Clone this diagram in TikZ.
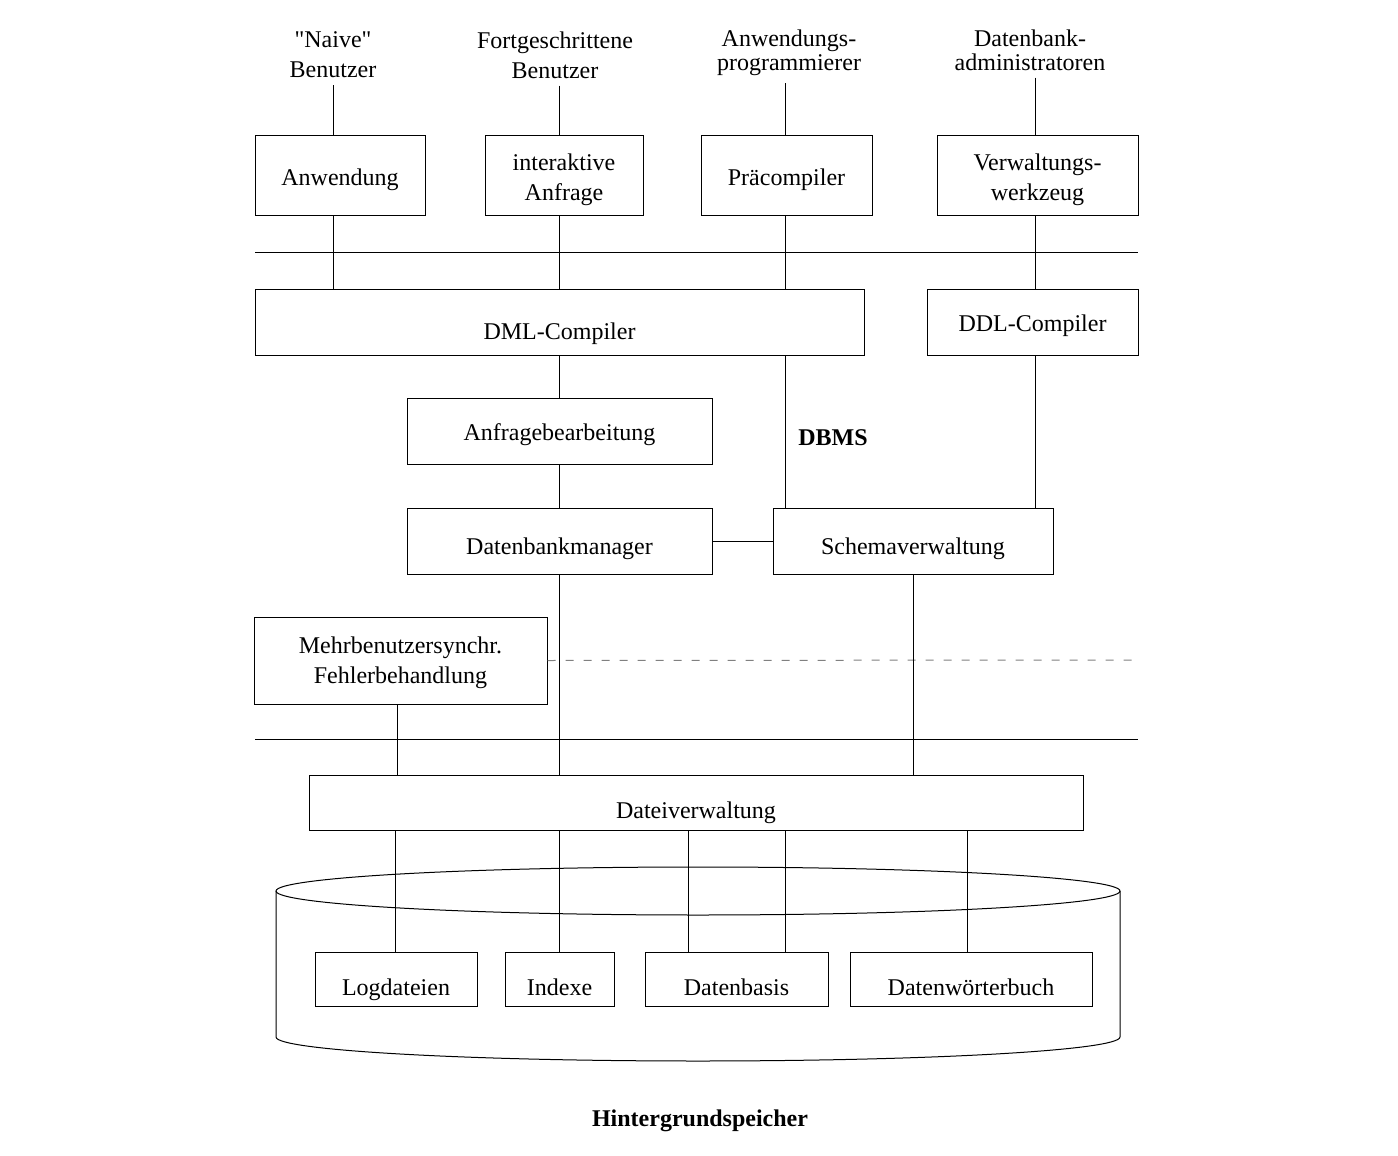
\documentclass[tikz,border=0pt]{standalone}
\usepackage{fontspec}
\setmainfont{Liberation Serif}
\usetikzlibrary{fit}
\begin{document}
\begin{tikzpicture}[x=0.5pt,y=-0.5pt,line width=0.5pt,
  every node/.style={font=\fontsize{12}{15}\selectfont},
  box/.style={draw, inner sep=0pt, line width=0.5pt},
  lbl/.style={align=center, inner sep=0pt, text height=9.5pt, text depth=2pt},
  mlbl/.style={align=center, inner sep=0pt},
  role/.style={align=center},
  tight/.style={align=center, font=\fontsize{12}{12}\selectfont},
  conn/.style={line width=0.5pt},
  dashconn/.style={line width=0.5pt, draw=gray, dash pattern=on 4pt off 5pt},
  bold/.style={font=\fontsize{12}{15}\selectfont\bfseries}]
\useasboundingbox (0,0) rectangle (1398,1156);

% column coordinates
\coordinate (c1) at (333,0);
\coordinate (c2) at (559,0);
\coordinate (c3) at (785,0);
\coordinate (c4) at (1035,0);
\coordinate (c5) at (913,0);
\coordinate (c6) at (397,0);
\coordinate (d1) at (395,0);
\coordinate (d3) at (688,0);
\coordinate (d5) at (967,0);

% user roles
\node[role] (naive) at (333,55) {\textquotedbl Naive\textquotedbl\\Benutzer};
\node[role] (fort) at (555,55) {Fortgeschrittene\\Benutzer};
\node[tight] (prog) at (789,53) {Anwendungs-\\programmierer};
\node[tight] (admin) at (1030,50) {Datenbank-\\administratoren};

% top boxes
\node[box, fit={(255,136)(425,215)}, label={[lbl, yshift=-1.25pt]center:Anwendung}] (anw) {};
\node[box, fit={(485,136)(643,215)}, label={[mlbl, yshift=-2pt]center:{interaktive\\Anfrage}}] (ia) {};
\node[box, fit={(701,136)(872,215)}, label={[lbl, yshift=-1.25pt]center:Präcompiler}] (pre) {};
\node[box, fit={(937,136)(1138,215)}, label={[mlbl, yshift=-2pt]center:{Verwaltungs-\\werkzeug}}] (vw) {};

% horizontal separators
\coordinate (h1l) at (255,252);
\coordinate (h1r) at (1138,252);
\coordinate (h2l) at (255,739);
\coordinate (h2r) at (1138,739);
\draw[conn] (h1l) -- (h1r);
\draw[conn] (h2l) -- (h2r);

% compilers
\node[box, fit={(255,289)(864,355)}, label={[lbl, yshift=-4.75pt]center:DML-Compiler}] (dml) {};
\node[box, fit={(927,289)(1138,355)}, label={[lbl, yshift=-1pt]center:DDL-Compiler}] (ddl) {};

\node[box, fit={(407,398)(712,464)}, label={[lbl, yshift=-1pt]center:Anfragebearbeitung}] (afb) {};
\node[bold] (dbms) at (833,438) {DBMS};

\node[box, fit={(407,508)(712,574)}, label={[lbl, yshift=-2.75pt]center:Datenbankmanager}] (dbm) {};
\node[box, fit={(773,508)(1053,574)}, label={[lbl, yshift=-2.75pt]center:Schemaverwaltung}] (schema) {};

\node[box, fit={(254,617)(547,704)}, label={[mlbl, yshift=-1pt]center:{Mehrbenutzersynchr.\\Fehlerbehandlung}}] (mehr) {};
\coordinate (dr) at (1138,660);
\draw[dashconn] (mehr.east) -- (dr);

\node[box, fit={(309,775)(1083,830)}, label={[lbl, yshift=-4pt]center:Dateiverwaltung}] (dv) {};

% cylinder
\draw[conn] (698,891) ellipse [x radius=422, y radius=24];
\draw[conn] (276,891) -- (276,1037) arc[start angle=180, end angle=0, x radius=422, y radius=24] -- (1120,891);

% storage boxes
\node[box, fill=white, fit={(315,952)(477,1006)}, label={[lbl, yshift=-4.25pt]center:Logdateien}] (log) {};
\node[box, fill=white, fit={(505,952)(614,1006)}, label={[lbl, yshift=-4.25pt]center:Indexe}] (idx) {};
\node[box, fill=white, fit={(645,952)(828,1006)}, label={[lbl, yshift=-4.25pt]center:Datenbasis}] (dbasis) {};
\node[box, fill=white, fit={(850,952)(1092,1006)}, label={[lbl, yshift=-4.25pt]center:Datenwörterbuch}] (dwb) {};

\node[bold] (hgs) at (700,1121) {Hintergrundspeicher};

% connectors
\draw[conn] (naive.south -| c1) -- (anw.north -| c1);
\draw[conn] (anw.south -| c1) -- (dml.north -| c1);
\draw[conn] (fort.south -| c2) -- (ia.north -| c2);
\draw[conn] (ia.south -| c2) -- (dml.north -| c2);
\draw[conn] (dml.south -| c2) -- (afb.north -| c2);
\draw[conn] (afb.south -| c2) -- (dbm.north -| c2);
\draw[conn] (dbm.south -| c2) -- (dv.north -| c2);
\draw[conn] (prog.south -| c3) -- (pre.north -| c3);
\draw[conn] (pre.south -| c3) -- (dml.north -| c3);
\draw[conn] (dml.south -| c3) -- (schema.north -| c3);
\draw[conn] (admin.south -| c4) -- (vw.north -| c4);
\draw[conn] (vw.south -| c4) -- (ddl.north -| c4);
\draw[conn] (ddl.south -| c4) -- (schema.north -| c4);
\draw[conn] (dbm.east) -- (schema.west);
\draw[conn] (schema.south -| c5) -- (dv.north -| c5);
\draw[conn] (mehr.south -| c6) -- (dv.north -| c6);
\draw[conn] (dv.south -| d1) -- (log.north -| d1);
\draw[conn] (dv.south -| c2) -- (idx.north -| c2);
\draw[conn] (dv.south -| d3) -- (dbasis.north -| d3);
\draw[conn] (dv.south -| c3) -- (dbasis.north -| c3);
\draw[conn] (dv.south -| d5) -- (dwb.north -| d5);
\end{tikzpicture}
\end{document}
